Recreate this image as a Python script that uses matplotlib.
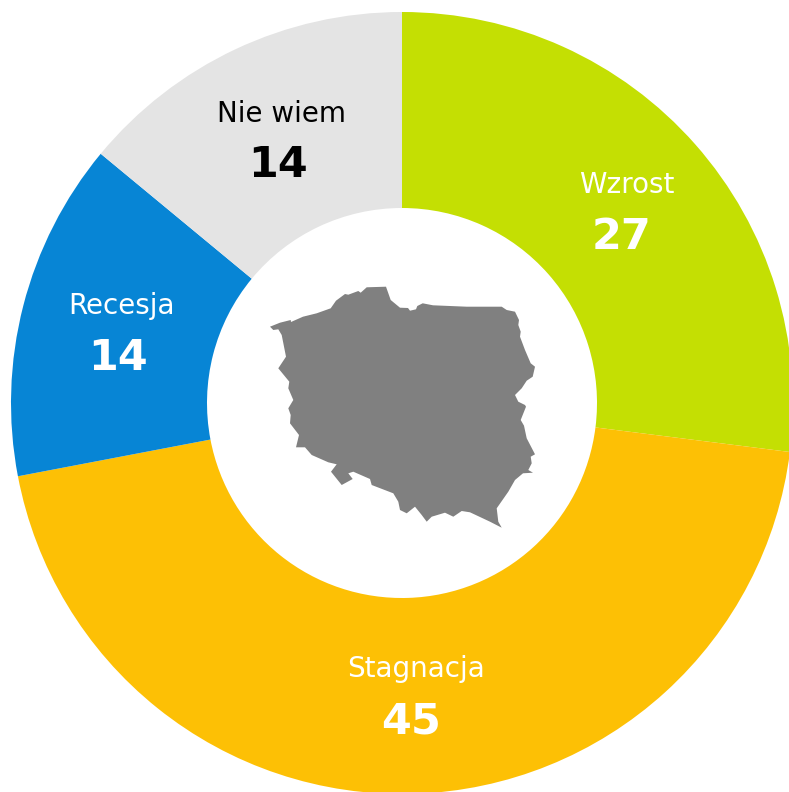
import numpy as np
import matplotlib
matplotlib.use('Agg')
import matplotlib.pyplot as plt

#%% Data

categories = ['Wzrost', 'Stagnacja', 'Recesja', 'Nie wiem']
values = [27, 45, 14, 14]
colors = ['#c4df03', '#fdc005', '#0785d5', '#e4e4e4']
text_colors = ['white', 'white', 'white', 'black']

# outline of Poland (pixels)
map_x = [270, 280, 290.7, 291, 303, 316.7, 330.7, 336, 345, 348.3, 358.3, 360.7,
         366.7, 386, 390.7, 400, 408, 410, 416, 417.3, 422.7, 433, 466.7, 501.7,
         506.7, 515, 519, 518.3, 520.7, 520, 525, 530.7, 535, 532.7, 526.7, 521.7,
         515, 518.3, 525, 526, 520.7, 524, 526.7, 535, 530.7, 531.7, 528.3, 533,
         523, 515, 508.3, 496.7, 498.3, 501.7, 490, 470, 461.7, 453.3, 445, 431.7,
         426.7, 421.7, 415, 406.7, 400, 398.3, 393.3, 371.7, 370, 353.3, 348.3,
         352.7, 341.7, 331, 336.7, 328.3, 311.7, 305, 296, 299, 290, 290.7, 288.3,
         293.3, 288.3, 289.3, 278.3, 286, 281.7, 278.3, 273.3]
map_y = [326.7, 322.7, 320, 322, 316.7, 313.3, 308.3, 300.7, 294, 294.7, 291, 292.7,
         287.3, 286.7, 300, 307.7, 308, 310.7, 309.3, 306, 303.3, 305.3, 306.7, 306.7,
         310, 311.7, 320, 325, 331.7, 336.7, 350, 363.3, 366.7, 376.7, 380.7, 388.3,
         395, 401.7, 405, 406.7, 420, 425.7, 438.3, 454.3, 456.7, 463.3, 470, 472.7,
         473.3, 480, 491.7, 508.3, 521.7, 527.7, 521.7, 512.3, 511, 516.7, 512.7, 516.7,
         521.7, 515, 506.7, 513.3, 510, 501.7, 493.3, 485, 479, 471.7, 473.3,
         479, 485, 471.7, 464.3, 462.3, 455, 447.3, 447.3, 435, 423.3, 415, 408.3,
         400, 388.3, 381.7, 368.3, 356.7, 335, 329.3, 330]

W, H = 789, 792

#%% Plotting

fig = plt.figure(figsize=(W / 100, H / 100), dpi=100)
ax = fig.add_axes([0, 0, 1, 1])

ax.pie(values, colors=colors, startangle=90, counterclock=False,
       center=(402, H - 403), radius=391,
       wedgeprops=dict(width=196, linewidth=0))

ax.fill(map_x, H - np.array(map_y), color='#808080', linewidth=0)

# label anchors in pixels: name baseline and number baseline
name_pos = [(627, 193), (416, 677), (122, 314), (282, 122)]
num_pos = [(622, 249), (411, 733), (118, 370), (278, 177)]

for i in range(len(values)):
    ax.text(name_pos[i][0], H - name_pos[i][1], categories[i], color=text_colors[i],
            fontsize=20, ha='center', va='baseline')
    ax.text(num_pos[i][0], H - num_pos[i][1], str(values[i]), color=text_colors[i],
            fontsize=31, fontweight='bold', ha='center', va='baseline')

ax.set_xlim(0, W)
ax.set_ylim(0, H)
ax.set_aspect('auto')
ax.axis('off')

fig.savefig('out.png', dpi=100, facecolor='white')
